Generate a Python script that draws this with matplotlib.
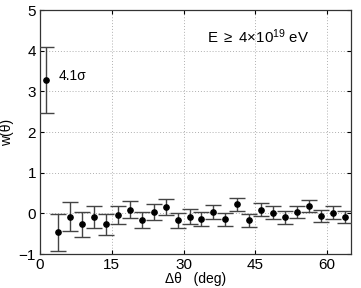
import matplotlib
matplotlib.use("Agg")
import matplotlib.pyplot as plt
import numpy as np

plt.rcParams['font.family'] = ['Liberation Sans', 'DejaVu Sans']
plt.rcParams['mathtext.fontset'] = 'custom'
plt.rcParams['mathtext.rm'] = 'Liberation Sans'
plt.rcParams['mathtext.it'] = 'Liberation Sans'

theta = [1.25, 3.75, 6.25, 8.75, 11.25, 13.75, 16.25, 18.75, 21.25, 23.75, 26.25,
         28.75, 31.25, 33.75, 36.25, 38.75, 41.25, 43.75, 46.25, 48.75, 51.25,
         53.75, 56.25, 58.75, 61.25, 63.75]
w = [3.28, -0.47, -0.08, -0.27, -0.10, -0.27, -0.04, 0.09, -0.17, 0.04, 0.16,
     -0.17, -0.08, -0.14, 0.04, -0.14, 0.23, -0.17, 0.09, 0.02, -0.09,
     0.04, 0.19, -0.07, 0.02, -0.08]
err = [0.80, 0.46, 0.35, 0.30, 0.27, 0.25, 0.22, 0.21, 0.20, 0.20, 0.19,
       0.18, 0.18, 0.17, 0.17, 0.16, 0.16, 0.16, 0.16, 0.16, 0.16,
       0.15, 0.15, 0.15, 0.15, 0.15]
xticks = [0, 15, 30, 45, 60]
yticks = [-1, 0, 1, 2, 3, 4, 5]

fig = plt.figure(figsize=(3.61, 2.88), dpi=100)
ax = fig.add_axes([0.111, 0.118, 0.861, 0.847])
ax.errorbar(theta, w, yerr=err, fmt='o', color='black', ms=3.8,
            ecolor='#444444', elinewidth=1.0, capsize=6, capthick=1.0, zorder=3)
ax.set_xlim(0, 65)
ax.set_ylim(-1, 5)
ax.set_xticks(xticks)
ax.set_yticks(yticks)
ax.grid(True, linestyle=(0, (1, 2)), color='#b0b0b0', linewidth=0.7)
ax.tick_params(direction='in', top=True, right=True, labelsize=11, length=3,
               width=0.8, colors='black', pad=3)
for s in ax.spines.values():
    s.set_linewidth(0.9)
    s.set_color('#333333')
ax.text(35, 4.34, r'E $\geq$ 4$\times$10$^{19}$ eV', fontsize=10.8, va='center', ha='left')
ax.text(3.9, 3.39, '4.1σ', fontsize=10, va='center', ha='left')
ax.set_ylabel('w(θ)', fontsize=10)
ax.yaxis.set_label_coords(-0.085, 0.5)
ax.set_xlabel('Δθ   (deg)', fontsize=10, labelpad=0)
fig.savefig('out.png', dpi=100)
